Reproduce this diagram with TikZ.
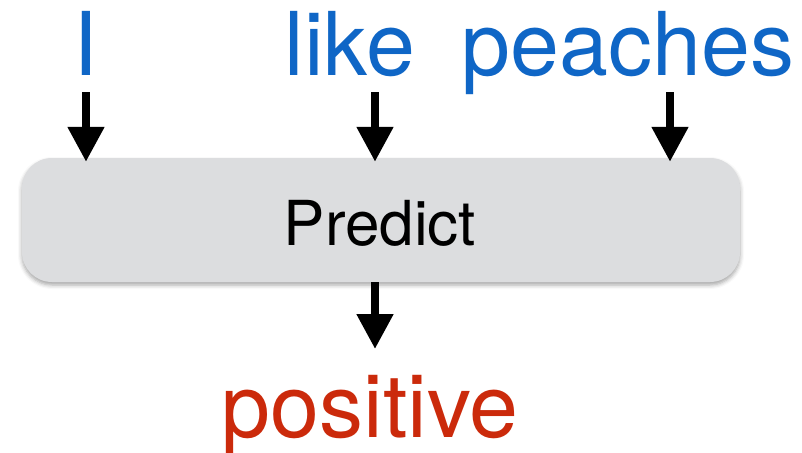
\documentclass[tikz,border=0pt]{standalone}
\usepackage{fontspec}
\setmainfont{TeX Gyre Heros}
\usetikzlibrary{arrows.meta,shadows.blur}
\definecolor{wortblau}{HTML}{0F66C6}
\definecolor{wortrot}{HTML}{CB2A0B}
\definecolor{kastengrau}{HTML}{DCDDDF}
\tikzset{
    wort/.style={anchor=base,inner sep=0pt,text=wortblau,font=\fontsize{88}{88}\selectfont},
    kasten/.style={draw=none,fill=kastengrau,rounded corners=30pt,minimum width=718pt,minimum height=124pt,
        blur shadow={shadow xshift=0pt,shadow yshift=-3pt,shadow blur radius=4pt,shadow opacity=35}},
    pfeil/.style={line width=8pt,-{Triangle[length=35pt,width=35pt]}}
}
\begin{document}
\begin{tikzpicture}[x=1pt,y=-1pt]
    \useasboundingbox (0,0) rectangle (802,452);

    % Woerter
    \node[wort] (wI) at (86,75) {I};
    \node[wort] (wlike) at (350,75) {like};
    \node[wort] (wpeaches) at (628,75) {peaches};

    % Kasten
    \node[kasten] (box) at (381,220) {};
    \node[anchor=base,inner sep=0pt,font=\fontsize{62}{62}\selectfont] (predict) at (380,245) {Predict};

    % Ergebnis
    \node[wort,text=wortrot] (wpositive) at (370,437) {positive};

    % Pfeile
    \coordinate (a1) at (86,92);
    \coordinate (a2) at (375,92);
    \coordinate (a3) at (670,92);
    \foreach \a in {a1,a2,a3} {
        \draw[pfeil,shorten >=-4pt] (\a) -- (\a |- box.north);
    }
    \coordinate (aus) at (375,349);
    \draw[pfeil] (aus |- box.south) -- (aus);
\end{tikzpicture}
\end{document}
